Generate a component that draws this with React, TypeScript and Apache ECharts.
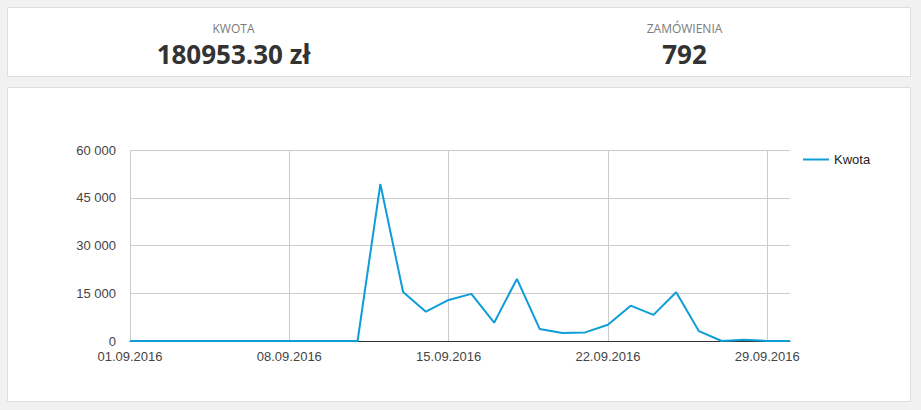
import React, { useEffect, useRef } from "react";
import * as echarts from "echarts";

const categories: string[] = [
  "01.09.2016", "02.09.2016", "03.09.2016", "04.09.2016", "05.09.2016",
  "06.09.2016", "07.09.2016", "08.09.2016", "09.09.2016", "10.09.2016",
  "11.09.2016", "12.09.2016", "13.09.2016", "14.09.2016", "15.09.2016",
  "16.09.2016", "17.09.2016", "18.09.2016", "19.09.2016", "20.09.2016",
  "21.09.2016", "22.09.2016", "23.09.2016", "24.09.2016", "25.09.2016",
  "26.09.2016", "27.09.2016", "28.09.2016", "29.09.2016", "30.09.2016",
];

const kwota: number[] = [
  0, 0, 0, 0, 0, 0, 0, 0, 0, 0,
  0, 49300, 15400, 9200, 12900, 14800, 5750, 19500, 3800, 2500,
  2700, 5100, 11100, 8200, 15300, 3100, 0, 400, 0, 0,
];

const summaryLabels: string[] = ["KWOTA", "ZAMÓWIENIA"];
const summaryValues: string[] = ["180953.30 zł", "792"];
const seriesName = "Kwota";

const fmt = (v: number) => String(v).replace(/\B(?=(\d{3})+(?!\d))/g, " ");

export default function App() {
  const ref = useRef<HTMLDivElement>(null);
  useEffect(() => {
    if (!ref.current) return;
    const chart = echarts.init(ref.current, null, { renderer: "svg" });
    const centers = [233.5, 684.5];
    const headerTexts: any[] = [];
    summaryLabels.forEach((lab, i) => {
      headerTexts.push({
        type: "text",
        z: 10,
        style: {
          text: lab,
          x: centers[i],
          y: 28,
          textAlign: "center",
          textVerticalAlign: "middle",
          align: "center",
          verticalAlign: "middle",
          font: '12px "Open Sans"',
          lineHeight: 12,
          fill: "#7a7a7a",
        },
      });
      headerTexts.push({
        type: "text",
        z: 10,
        style: {
          text: summaryValues[i],
          x: centers[i],
          y: 54,
          textAlign: "center",
          textVerticalAlign: "middle",
          align: "center",
          verticalAlign: "middle",
          font: 'bold 26px "Open Sans"',
          lineHeight: 24,
          fill: "#333333",
        },
      });
    });
    chart.setOption({
      animation: false,
      backgroundColor: "#f1f1f1",
      graphic: [
        {
          type: "rect",
          z: 0,
          shape: { x: 7.5, y: 7.5, width: 903, height: 69 },
          style: { fill: "#ffffff", stroke: "#dddddd", lineWidth: 1 },
        },
        {
          type: "rect",
          z: 0,
          shape: { x: 7.5, y: 87.5, width: 903, height: 314 },
          style: { fill: "#ffffff", stroke: "#dddddd", lineWidth: 1 },
        },
        ...headerTexts,
      ],
      legend: {
        left: 798,
        top: 148,
        icon: "rect",
        itemWidth: 26,
        itemHeight: 2,
        itemGap: 4,
        textStyle: { fontFamily: "Liberation Sans", fontSize: 13, color: "#222" },
        data: [seriesName],
      },
      grid: { left: 130, right: 131, top: 150, bottom: 69, containLabel: false },
      xAxis: {
        type: "category",
        data: categories,
        boundaryGap: false,
        axisLine: { show: true, lineStyle: { color: "#333333", width: 1 } },
        axisTick: { show: false },
        axisLabel: {
          interval: 6,
          margin: 9,
          fontFamily: "Liberation Sans",
          fontSize: 13,
          color: "#444444",
        },
        splitLine: {
          show: true,
          interval: 6,
          lineStyle: { color: "#cccccc", width: 1 },
        },
      },
      yAxis: {
        type: "value",
        min: 0,
        max: 60000,
        interval: 15000,
        axisLine: { show: false },
        axisTick: { show: false },
        axisLabel: {
          margin: 14,
          fontFamily: "Liberation Sans",
          fontSize: 13,
          color: "#444444",
          formatter: (v: number) => fmt(v),
        },
        splitLine: { lineStyle: { color: "#cccccc", width: 1 } },
      },
      series: [
        {
          name: seriesName,
          type: "line",
          data: kwota,
          showSymbol: false,
          symbol: "none",
          z: 5,
          itemStyle: { color: "#0e9dd6" },
          lineStyle: { color: "#0e9dd6", width: 2 },
        },
      ],
    });
    return () => chart.dispose();
  }, []);
  return (
    <div
      ref={ref}
      style={{ position: "fixed", left: 0, top: 0, width: 921, height: 410 }}
    />
  );
}
